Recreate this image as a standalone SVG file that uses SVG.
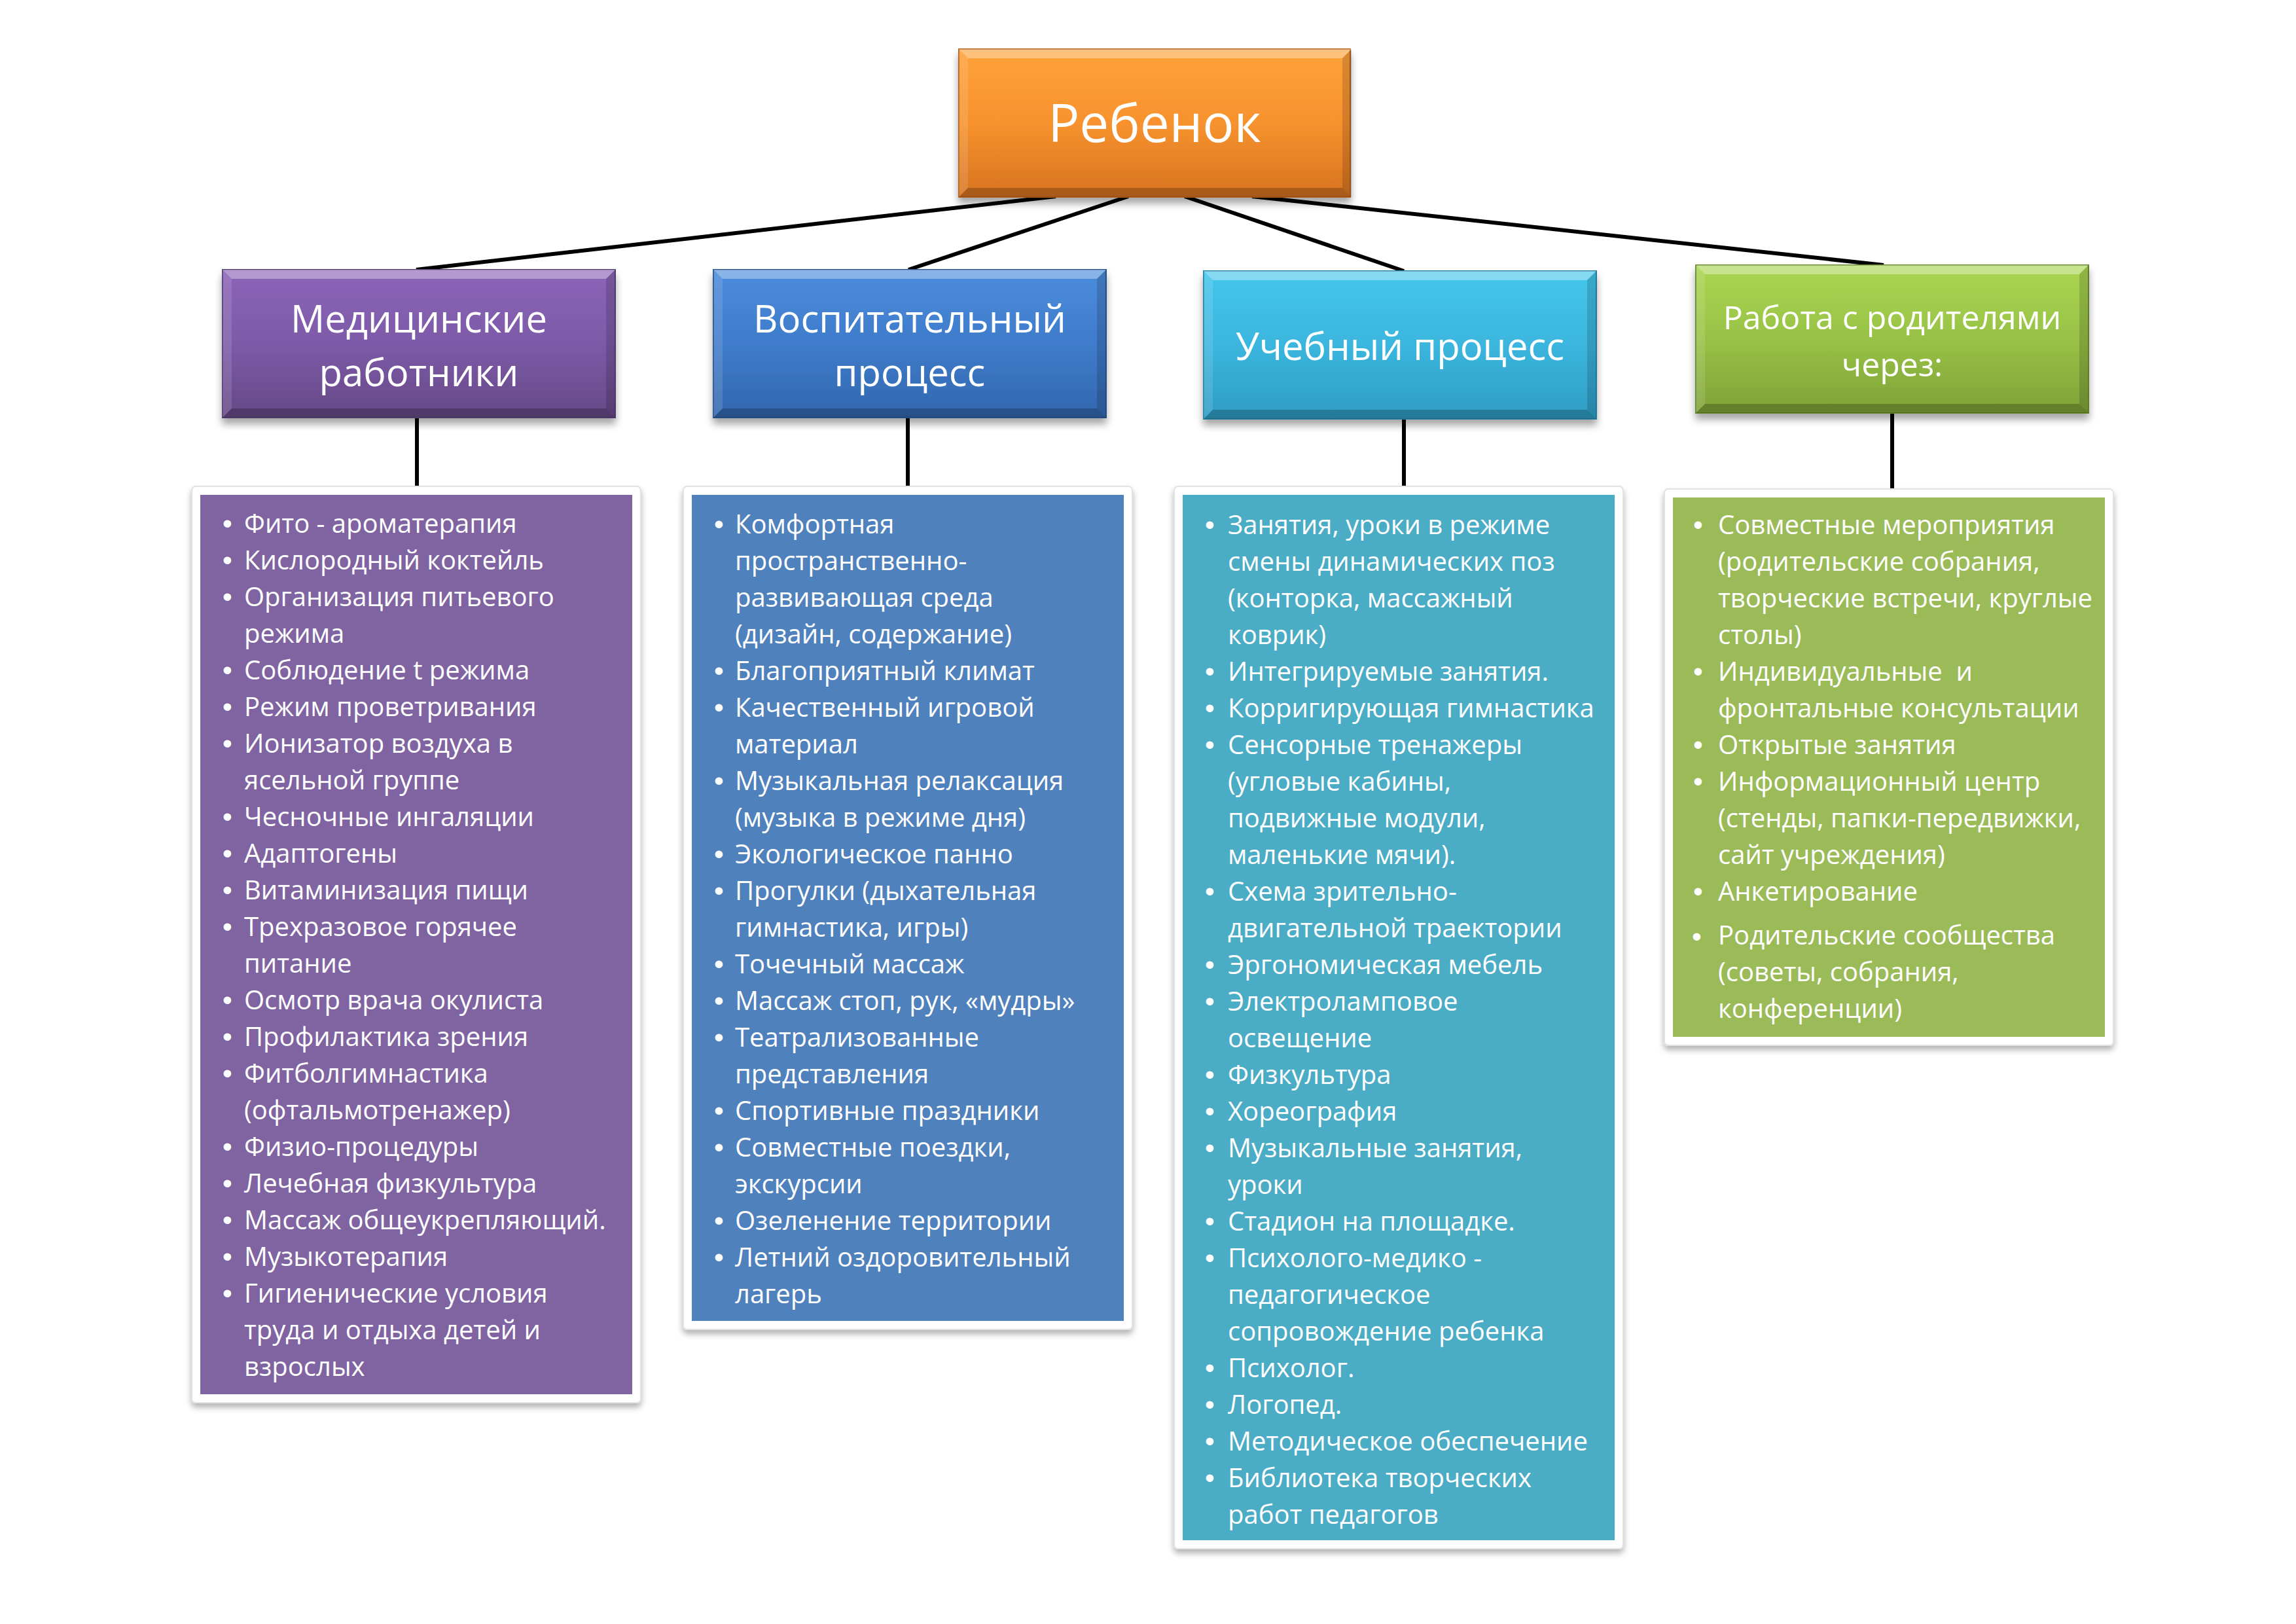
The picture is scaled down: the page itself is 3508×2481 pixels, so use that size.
<svg xmlns="http://www.w3.org/2000/svg" xmlns:xlink="http://www.w3.org/1999/xlink" width="3508" height="2481" viewBox="0 0 3508 2481">
<defs>
<style>
.head{font-family:"Open Sans","Liberation Sans",sans-serif;fill:#fff;text-anchor:middle}
.li{font-family:"Open Sans","Liberation Sans",sans-serif;font-size:40px;fill:#fff;white-space:pre}
.b{font-family:"Liberation Sans","DejaVu Sans",sans-serif;font-size:42px}
.conn{stroke:#000;stroke-width:6;fill:none}
.frame{fill:#fff;stroke:#e2e2e2;stroke-width:2}
</style>
<filter id="sh" x="-10%" y="-10%" width="120%" height="130%">
<feDropShadow dx="0" dy="9" stdDeviation="6" flood-color="#000" flood-opacity="0.35"/>
</filter>
<filter id="fsh" x="-10%" y="-10%" width="120%" height="120%">
<feDropShadow dx="0" dy="6" stdDeviation="5" flood-color="#000" flood-opacity="0.3"/>
</filter>
<linearGradient id="gOr" x1="0" y1="0" x2="0" y2="1"><stop offset="0" stop-color="#FFA23A"/><stop offset="0.5" stop-color="#F7922E"/><stop offset="1" stop-color="#D7731F"/></linearGradient>
<linearGradient id="gPu" x1="0" y1="0" x2="0" y2="1"><stop offset="0" stop-color="#8C64B8"/><stop offset="0.5" stop-color="#7D5AA8"/><stop offset="1" stop-color="#664886"/></linearGradient>
<linearGradient id="gBl" x1="0" y1="0" x2="0" y2="1"><stop offset="0" stop-color="#4B8CDC"/><stop offset="0.5" stop-color="#3F7CCB"/><stop offset="1" stop-color="#3266AE"/></linearGradient>
<linearGradient id="gCy" x1="0" y1="0" x2="0" y2="1"><stop offset="0" stop-color="#45C6EC"/><stop offset="0.5" stop-color="#3BB6DE"/><stop offset="1" stop-color="#2E9CC4"/></linearGradient>
<linearGradient id="gGr" x1="0" y1="0" x2="0" y2="1"><stop offset="0" stop-color="#AAD652"/><stop offset="0.5" stop-color="#98C246"/><stop offset="1" stop-color="#7FA238"/></linearGradient>
<g id="bevel">
<polygon points="0,0 600,0 586,14 14,14" fill="#fff" fill-opacity="0.35"/>
<polygon points="0,0 14,14 14,212 0,226" fill="#fff" fill-opacity="0.12"/>
<polygon points="600,0 600,226 586,212 586,14" fill="#000" fill-opacity="0.15"/>
<polygon points="0,226 14,212 586,212 600,226" fill="#000" fill-opacity="0.22"/>
</g>
</defs>
<rect width="3508" height="2481" fill="#fff"/>

<g id="connectors">
<line class="conn" x1="1613" y1="300" x2="636" y2="412"/>
<line class="conn" x1="1724" y1="300" x2="1388" y2="412"/>
<line class="conn" x1="1810" y1="300" x2="2145" y2="414"/>
<line class="conn" x1="1913" y1="300" x2="2878" y2="405"/>
<line class="conn" x1="637" y1="638" x2="637" y2="745"/>
<line class="conn" x1="1387" y1="638" x2="1387" y2="745"/>
<line class="conn" x1="2145" y1="640" x2="2145" y2="745"/>
<line class="conn" x1="2891" y1="631" x2="2891" y2="749"/>
</g>

<g id="root">
<g filter="url(#sh)"><rect x="1465" y="75" width="598" height="226" fill="url(#gOr)" stroke="#B9621C" stroke-width="2"/></g>
<use xlink:href="#bevel" x="1465" y="75"/>
<text class="head" x="1764" y="217" font-size="80">Ребенок</text>
</g>

<g id="med">
<g filter="url(#sh)"><rect x="340" y="412" width="600" height="226" fill="url(#gPu)" stroke="#564076" stroke-width="2"/></g>
<use xlink:href="#bevel" x="340" y="412"/>
<text class="head" x="640" y="508" font-size="58">Медицинские</text>
<text class="head" x="640" y="590" font-size="58">работники</text>
</g>

<g id="vosp">
<g filter="url(#sh)"><rect x="1090" y="412" width="600" height="226" fill="url(#gBl)" stroke="#2A5592" stroke-width="2"/></g>
<use xlink:href="#bevel" x="1090" y="412"/>
<text class="head" x="1390" y="508" font-size="58">Воспитательный</text>
<text class="head" x="1390" y="590" font-size="58">процесс</text>
</g>

<g id="ucheb">
<g filter="url(#sh)"><rect x="1839" y="414" width="600" height="226" fill="url(#gCy)" stroke="#2685A8" stroke-width="2"/></g>
<use xlink:href="#bevel" x="1839" y="414"/>
<text class="head" x="2139" y="550" font-size="58">Учебный процесс</text>
</g>

<g id="rab">
<g filter="url(#sh)"><rect x="2591" y="405" width="600" height="226" fill="url(#gGr)" stroke="#6A8A2E" stroke-width="2"/></g>
<use xlink:href="#bevel" x="2591" y="405"/>
<text class="head" x="2891" y="503" font-size="50">Работа с родителями</text>
<text class="head" x="2891" y="575" font-size="50">через:</text>
</g>

<g id="med-list">
<rect class="frame" filter="url(#fsh)" x="293" y="743" width="686" height="1400" rx="6"/>
<rect x="306" y="756" width="660" height="1374" fill="#8064A2"/>
<text class="li">
<tspan class="b" x="340" y="814">•</tspan><tspan x="373" y="814">Фито - ароматерапия</tspan>
<tspan class="b" x="340" y="870">•</tspan><tspan x="373" y="870">Кислородный коктейль</tspan>
<tspan class="b" x="340" y="926">•</tspan><tspan x="373" y="926">Организация питьевого</tspan>
<tspan x="373" y="982">режима</tspan>
<tspan class="b" x="340" y="1038">•</tspan><tspan x="373" y="1038">Соблюдение t режима</tspan>
<tspan class="b" x="340" y="1094">•</tspan><tspan x="373" y="1094">Режим проветривания</tspan>
<tspan class="b" x="340" y="1150">•</tspan><tspan x="373" y="1150">Ионизатор воздуха в</tspan>
<tspan x="373" y="1206">ясельной группе</tspan>
<tspan class="b" x="340" y="1262">•</tspan><tspan x="373" y="1262">Чесночные ингаляции</tspan>
<tspan class="b" x="340" y="1318">•</tspan><tspan x="373" y="1318">Адаптогены</tspan>
<tspan class="b" x="340" y="1374">•</tspan><tspan x="373" y="1374">Витаминизация пищи</tspan>
<tspan class="b" x="340" y="1430">•</tspan><tspan x="373" y="1430">Трехразовое горячее</tspan>
<tspan x="373" y="1486">питание</tspan>
<tspan class="b" x="340" y="1542">•</tspan><tspan x="373" y="1542">Осмотр врача окулиста</tspan>
<tspan class="b" x="340" y="1598">•</tspan><tspan x="373" y="1598">Профилактика зрения</tspan>
<tspan class="b" x="340" y="1654">•</tspan><tspan x="373" y="1654">Фитболгимнастика</tspan>
<tspan x="373" y="1710">(офтальмотренажер)</tspan>
<tspan class="b" x="340" y="1766">•</tspan><tspan x="373" y="1766">Физио-процедуры</tspan>
<tspan class="b" x="340" y="1822">•</tspan><tspan x="373" y="1822">Лечебная физкультура</tspan>
<tspan class="b" x="340" y="1878">•</tspan><tspan x="373" y="1878">Массаж общеукрепляющий.</tspan>
<tspan class="b" x="340" y="1934">•</tspan><tspan x="373" y="1934">Музыкотерапия</tspan>
<tspan class="b" x="340" y="1990">•</tspan><tspan x="373" y="1990">Гигиенические условия</tspan>
<tspan x="373" y="2046">труда и отдыха детей и</tspan>
<tspan x="373" y="2102">взрослых</tspan>
</text>
</g>

<g id="vosp-list">
<rect class="frame" filter="url(#fsh)" x="1044" y="743" width="686" height="1288" rx="6"/>
<rect x="1057" y="756" width="660" height="1262" fill="#4F81BD"/>
<text class="li">
<tspan class="b" x="1091" y="815">•</tspan><tspan x="1123" y="815">Комфортная</tspan>
<tspan x="1123" y="871">пространственно-</tspan>
<tspan x="1123" y="927">развивающая среда</tspan>
<tspan x="1123" y="983">(дизайн, содержание)</tspan>
<tspan class="b" x="1091" y="1039">•</tspan><tspan x="1123" y="1039">Благоприятный климат</tspan>
<tspan class="b" x="1091" y="1095">•</tspan><tspan x="1123" y="1095">Качественный игровой</tspan>
<tspan x="1123" y="1151">материал</tspan>
<tspan class="b" x="1091" y="1207">•</tspan><tspan x="1123" y="1207">Музыкальная релаксация</tspan>
<tspan x="1123" y="1263">(музыка в режиме дня)</tspan>
<tspan class="b" x="1091" y="1319">•</tspan><tspan x="1123" y="1319">Экологическое панно</tspan>
<tspan class="b" x="1091" y="1375">•</tspan><tspan x="1123" y="1375">Прогулки (дыхательная</tspan>
<tspan x="1123" y="1431">гимнастика, игры)</tspan>
<tspan class="b" x="1091" y="1487">•</tspan><tspan x="1123" y="1487">Точечный массаж</tspan>
<tspan class="b" x="1091" y="1543">•</tspan><tspan x="1123" y="1543">Массаж стоп, рук, «мудры»</tspan>
<tspan class="b" x="1091" y="1599">•</tspan><tspan x="1123" y="1599">Театрализованные</tspan>
<tspan x="1123" y="1655">представления</tspan>
<tspan class="b" x="1091" y="1711">•</tspan><tspan x="1123" y="1711">Спортивные праздники</tspan>
<tspan class="b" x="1091" y="1767">•</tspan><tspan x="1123" y="1767">Совместные поездки,</tspan>
<tspan x="1123" y="1823">экскурсии</tspan>
<tspan class="b" x="1091" y="1879">•</tspan><tspan x="1123" y="1879">Озеленение территории</tspan>
<tspan class="b" x="1091" y="1935">•</tspan><tspan x="1123" y="1935">Летний оздоровительный</tspan>
<tspan x="1123" y="1991">лагерь</tspan>
</text>
</g>

<g id="ucheb-list">
<rect class="frame" filter="url(#fsh)" x="1794" y="743" width="686" height="1623" rx="6"/>
<rect x="1807" y="756" width="660" height="1597" fill="#4BACC6"/>
<text class="li">
<tspan class="b" x="1841" y="816">•</tspan><tspan x="1876" y="816">Занятия, уроки в режиме</tspan>
<tspan x="1876" y="872">смены динамических поз</tspan>
<tspan x="1876" y="928">(конторка, массажный</tspan>
<tspan x="1876" y="984">коврик)</tspan>
<tspan class="b" x="1841" y="1040">•</tspan><tspan x="1876" y="1040">Интегрируемые занятия.</tspan>
<tspan class="b" x="1841" y="1096">•</tspan><tspan x="1876" y="1096">Корригирующая гимнастика</tspan>
<tspan class="b" x="1841" y="1152">•</tspan><tspan x="1876" y="1152">Сенсорные тренажеры</tspan>
<tspan x="1876" y="1208">(угловые кабины,</tspan>
<tspan x="1876" y="1264">подвижные модули,</tspan>
<tspan x="1876" y="1320">маленькие мячи).</tspan>
<tspan class="b" x="1841" y="1376">•</tspan><tspan x="1876" y="1376">Схема зрительно-</tspan>
<tspan x="1876" y="1432">двигательной траектории</tspan>
<tspan class="b" x="1841" y="1488">•</tspan><tspan x="1876" y="1488">Эргономическая мебель</tspan>
<tspan class="b" x="1841" y="1544">•</tspan><tspan x="1876" y="1544">Электроламповое</tspan>
<tspan x="1876" y="1600">освещение</tspan>
<tspan class="b" x="1841" y="1656">•</tspan><tspan x="1876" y="1656">Физкультура</tspan>
<tspan class="b" x="1841" y="1712">•</tspan><tspan x="1876" y="1712">Хореография</tspan>
<tspan class="b" x="1841" y="1768">•</tspan><tspan x="1876" y="1768">Музыкальные занятия,</tspan>
<tspan x="1876" y="1824">уроки</tspan>
<tspan class="b" x="1841" y="1880">•</tspan><tspan x="1876" y="1880">Стадион на площадке.</tspan>
<tspan class="b" x="1841" y="1936">•</tspan><tspan x="1876" y="1936">Психолого-медико -</tspan>
<tspan x="1876" y="1992">педагогическое</tspan>
<tspan x="1876" y="2048">сопровождение ребенка</tspan>
<tspan class="b" x="1841" y="2104">•</tspan><tspan x="1876" y="2104">Психолог.</tspan>
<tspan class="b" x="1841" y="2160">•</tspan><tspan x="1876" y="2160">Логопед.</tspan>
<tspan class="b" x="1841" y="2216">•</tspan><tspan x="1876" y="2216">Методическое обеспечение</tspan>
<tspan class="b" x="1841" y="2272">•</tspan><tspan x="1876" y="2272">Библиотека творческих</tspan>
<tspan x="1876" y="2328">работ педагогов</tspan>
</text>
</g>

<g id="rab-list">
<rect class="frame" filter="url(#fsh)" x="2543" y="747" width="686" height="850" rx="6"/>
<rect x="2556" y="760" width="660" height="824" fill="#9BBB59"/>
<text class="li">
<tspan class="b" x="2587" y="816">•</tspan><tspan x="2625" y="816">Совместные мероприятия</tspan>
<tspan x="2625" y="872">(родительские собрания,</tspan>
<tspan x="2625" y="928">творческие встречи, круглые</tspan>
<tspan x="2625" y="984">столы)</tspan>
<tspan class="b" x="2587" y="1040">•</tspan><tspan x="2625" y="1040">Индивидуальные  и</tspan>
<tspan x="2625" y="1096">фронтальные консультации</tspan>
<tspan class="b" x="2587" y="1152">•</tspan><tspan x="2625" y="1152">Открытые занятия</tspan>
<tspan class="b" x="2587" y="1208">•</tspan><tspan x="2625" y="1208">Информационный центр</tspan>
<tspan x="2625" y="1264">(стенды, папки-передвижки,</tspan>
<tspan x="2625" y="1320">сайт учреждения)</tspan>
<tspan class="b" x="2587" y="1376">•</tspan><tspan x="2625" y="1376">Анкетирование</tspan>
<tspan class="b" x="2585" y="1445" font-size="52">•</tspan><tspan x="2625" y="1443">Родительские сообщества</tspan>
<tspan x="2625" y="1499">(советы, собрания,</tspan>
<tspan x="2625" y="1555">конференции)</tspan>
</text>
</g>
</svg>
